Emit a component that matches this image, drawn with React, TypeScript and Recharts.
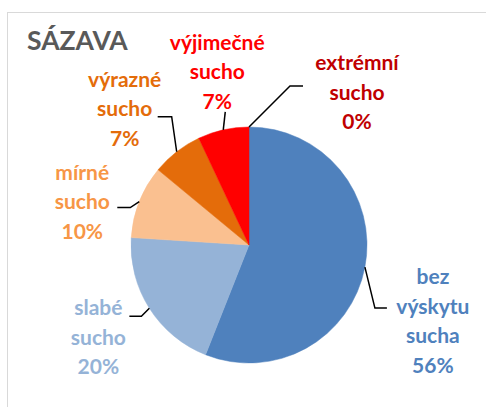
import { PieChart, Pie, Cell } from 'recharts';

const categories = [
  'bez výskytu sucha',
  'slabé sucho',
  'mírné sucho',
  'výrazné sucho',
  'výjimečné sucho',
  'extrémní sucho',
];
const shares = [56, 20, 10, 7, 7, 0];
const sliceColors = ['#4F81BD', '#95B3D7', '#FAC090', '#E46C0A', '#FF0000', '#C00000'];
const labelColors = ['#4F81BD', '#95B3D7', '#F79646', '#E46C0A', '#FF0000', '#C00000'];

// label placement relative to the slice's edge point (elbow, horizontal tail, text center)
const labelLayout = [
  { ex: 10, ey: 41, tail: 12, tx: 68, ty: 10 },
  { ex: -8, ey: 8, tail: -12, tx: -51, ty: 0 },
  { ex: -9, ey: 6, tail: -13, tx: -57, ty: -29 },
  { ex: -5, ey: -35, tail: -14, tx: -52, ty: -72 },
  { ex: 2, ey: -18, tail: 0, tx: -6, ty: -87 },
  { ex: 41, ey: -41, tail: 13, tx: 108, ty: -64 },
];

const data = categories.map((name, i) => ({ name, value: shares[i] }));

const RAD = Math.PI / 180;
const FONT = 'Lato, "Open Sans", sans-serif';

function renderLabel(props: any) {
  const { cx, cy, midAngle, outerRadius, index, percent, name } = props;
  const ax = cx + outerRadius * Math.cos(-midAngle * RAD);
  const ay = cy + outerRadius * Math.sin(-midAngle * RAD);
  const l = labelLayout[index];
  const bx = ax + l.ex;
  const by = ay + l.ey;
  const lines = [...String(name).split(' '), `${Math.round(percent * 100)}%`];
  return (
    <g key={`lbl-${index}`}>
      <polyline
        points={`${ax},${ay} ${bx},${by} ${bx + l.tail},${by}`}
        fill="none"
        stroke="#000"
        strokeWidth={1.5}
      />
      <text
        x={ax + l.tx}
        y={ay + l.ty + 7}
        textAnchor="middle"
        fill={labelColors[index]}
        fontFamily={FONT}
        fontWeight={700}
        fontSize={21}
      >
        {lines.map((t, k) => (
          <tspan key={k} x={ax + l.tx} dy={k === 0 ? 0 : 29.5}>
            {t}
          </tspan>
        ))}
      </text>
    </g>
  );
}

export default function App() {
  return (
    <div
      style={{
        position: 'fixed',
        left: 0,
        top: 0,
        width: 486,
        height: 407,
        background: '#fff',
        overflow: 'hidden',
      }}
    >
      <div
        style={{
          position: 'absolute',
          left: 7,
          top: 12,
          width: 520,
          height: 440,
          border: '1px solid #D9D9D9',
        }}
      />
      <div
        style={{
          position: 'absolute',
          left: 27,
          top: 23,
          fontFamily: FONT,
          fontWeight: 700,
          fontSize: 26.5,
          color: '#595959',
          lineHeight: '34px',
        }}
      >
        SÁZAVA
      </div>
      <div style={{ position: 'absolute', left: 0, top: 0 }}>
        <PieChart width={486} height={407} margin={{ top: 0, right: 0, bottom: 0, left: 0 }}>
          <Pie
            data={data}
            dataKey="value"
            nameKey="name"
            cx={249}
            cy={245}
            outerRadius={118}
            startAngle={90}
            endAngle={-270}
            label={renderLabel}
            labelLine={false}
            isAnimationActive={false}
          >
            {data.map((d, i) => (
              <Cell key={d.name} fill={sliceColors[i]} stroke={sliceColors[i]} strokeWidth={0.5} />
            ))}
          </Pie>
        </PieChart>
      </div>
    </div>
  );
}
